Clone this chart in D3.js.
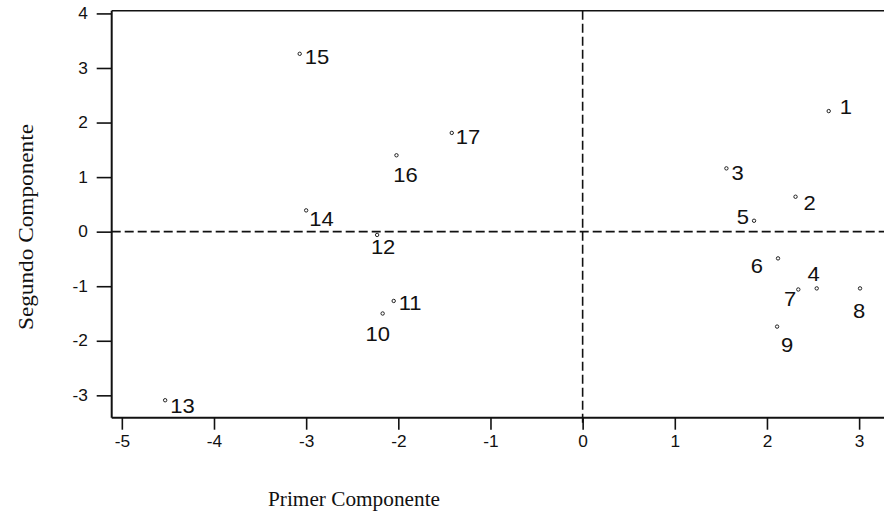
<!DOCTYPE html>
<html>
<head>
<meta charset="utf-8">
<script src="https://cdn.jsdelivr.net/npm/d3@7"></script>
<style>
  html, body { margin: 0; padding: 0; background: #fff; }
  svg { display: block; }
</style>
</head>
<body>
<svg id="chart" width="884" height="527"></svg>
<script>
// Observation ids and their scores on the first two principal components
const ids    = ["1","2","3","4","5","6","7","8","9","10","11","12","13","14","15","16","17"];
const comp1  = [2.67, 2.31, 1.56, 2.54, 1.86, 2.12, 2.34, 3.01, 2.11, -2.17, -2.05, -2.23, -4.53, -3.00, -3.07, -2.02, -1.42];
const comp2  = [2.21, 0.64, 1.16, -1.04, 0.20, -0.49, -1.06, -1.04, -1.74, -1.50, -1.27, -0.06, -3.09, 0.39, 3.26, 1.40, 1.81];

const xTicks = [-5, -4, -3, -2, -1, 0, 1, 2, 3];
const yTicks = [-3, -2, -1, 0, 1, 2, 3, 4];

const xTitle = "Primer Componente";
const yTitle = "Segundo Componente";

// Label nudges (px) relative to each marker, with text anchor
const labelNudge = {
  "1": [11, -4, "start"],  "2": [8, 6, "start"],   "3": [5, 4, "start"],
  "4": [-3, -15, "middle"],"5": [-5, -4, "end"],   "6": [-15, 7, "end"],
  "7": [-2, 9, "end"],     "8": [-1, 22, "middle"],"9": [10, 18, "middle"],
  "10": [-5, 20, "middle"],"11": [5, 2, "start"],  "12": [6, 12, "middle"],
  "13": [5, 6, "start"],   "14": [3, 8, "start"],  "15": [5, 3, "start"],
  "16": [9, 20, "middle"], "17": [4, 4, "start"]
};

const svg = d3.select("#chart");
const plotL = 111.7, plotR = 884, plotT = 10.7, plotB = 417.7;

const x = d3.scaleLinear().domain([-5.11, 3.27]).range([plotL, plotR]);
const y = d3.scaleLinear().domain([-3.41, 4.05]).range([plotB, plotT]);

const sans = "'Liberation Sans', Arial, sans-serif";
const serif = "'Liberation Serif', 'Times New Roman', serif";

// reference lines through the origin
svg.append("line")
  .attr("x1", plotL).attr("x2", plotR)
  .attr("y1", y(0)).attr("y2", y(0))
  .attr("stroke", "#111").attr("stroke-width", 1.6)
  .attr("stroke-dasharray", "9,4");
svg.append("line")
  .attr("x1", x(0)).attr("x2", x(0))
  .attr("y1", plotT).attr("y2", plotB + 6)
  .attr("stroke", "#111").attr("stroke-width", 1.6)
  .attr("stroke-dasharray", "9,4");

// top frame line
svg.append("line")
  .attr("x1", plotL).attr("x2", plotR)
  .attr("y1", plotT).attr("y2", plotT)
  .attr("stroke", "#111").attr("stroke-width", 1.6);

// axes
const xAxis = d3.axisBottom(x).tickValues(xTicks).tickSize(12).tickSizeOuter(0)
  .tickPadding(6).tickFormat(d => String(d));
const yAxis = d3.axisLeft(y).tickValues(yTicks).tickSize(15).tickSizeOuter(0)
  .tickPadding(7).tickFormat(d => String(d));

const gx = svg.append("g").attr("transform", `translate(0,${plotB})`).call(xAxis);
const gy = svg.append("g").attr("transform", `translate(${plotL},0)`).call(yAxis);

[gx, gy].forEach(g => {
  g.select(".domain").attr("stroke", "#111").attr("stroke-width", 2);
  g.selectAll(".tick line").attr("stroke", "#111").attr("stroke-width", 1.6);
  g.selectAll(".tick text")
    .attr("fill", "#111")
    .style("font-family", sans)
    .style("font-size", "16px")
    .attr("transform", "scale(1.08,1)");
});
gx.select(".domain").attr("d", `M${plotL},0H${plotR}`);
gy.select(".domain").attr("d", `M0,${plotT}V${plotB}`);

// markers
const pts = ids.map((id, i) => ({ id, c1: comp1[i], c2: comp2[i] }));

svg.append("g").selectAll("circle")
  .data(pts).join("circle")
  .attr("cx", d => x(d.c1))
  .attr("cy", d => y(d.c2))
  .attr("r", 1.7)
  .attr("fill", "#fff")
  .attr("stroke", "#222")
  .attr("stroke-width", 1);

// point labels
svg.append("g").selectAll("text")
  .data(pts).join("text")
  .attr("transform", d => {
    const n = labelNudge[d.id];
    return `translate(${x(d.c1) + n[0]},${y(d.c2) + n[1]}) scale(1.1,1)`;
  })
  .attr("text-anchor", d => labelNudge[d.id][2])
  .attr("dominant-baseline", "central")
  .style("font-family", sans)
  .style("font-size", "20px")
  .attr("fill", "#111")
  .text(d => d.id);

// axis titles
svg.append("text")
  .attr("x", 268).attr("y", 506)
  .attr("textLength", 172).attr("lengthAdjust", "spacingAndGlyphs")
  .style("font-family", serif).style("font-size", "21px")
  .attr("fill", "#111")
  .text(xTitle);

svg.append("text")
  .attr("transform", "translate(33,330) rotate(-90)")
  .attr("textLength", 206).attr("lengthAdjust", "spacingAndGlyphs")
  .style("font-family", serif).style("font-size", "21px")
  .attr("fill", "#111")
  .text(yTitle);
</script>
</body>
</html>
